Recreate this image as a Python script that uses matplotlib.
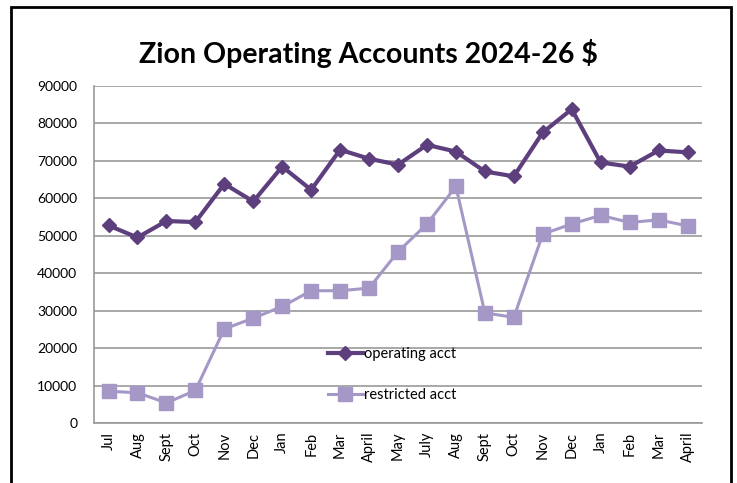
import matplotlib.pyplot as plt
from matplotlib.patches import Rectangle

months = ["Jul", "Aug", "Sept", "Oct", "Nov", "Dec", "Jan", "Feb", "Mar", "April", "May",
          "July", "Aug", "Sept", "Oct", "Nov", "Dec", "Jan", "Feb", "Mar", "April"]
operating = [52800, 49600, 54000, 53700, 63900, 59200, 68500, 62300, 73000, 70600, 69000,
             74300, 72500, 67200, 65900, 77600, 83800, 69600, 68500, 72800, 72300]
restricted = [8600, 8200, 5500, 8800, 25200, 28100, 31200, 35400, 35400, 36100, 45800,
              53200, 63200, 29500, 28300, 50500, 53200, 55500, 53600, 54300, 52700]

plt.rcParams['font.family'] = ['Lato', 'DejaVu Sans']

fig = plt.figure(figsize=(7.37, 4.83), dpi=100)
ax = fig.add_axes([0.1276, 0.1232, 0.8249, 0.6988])

x = range(len(months))
ax.plot(x, operating, color='#5e3f7d', lw=3, marker='D', ms=7, label='operating acct', zorder=3)
ax.plot(x, restricted, color='#a597c6', lw=2.2, marker='s', ms=10, label='restricted acct', zorder=3)

ax.set_xlim(-0.5, len(months) - 0.5)
ax.set_ylim(0, 90000)
ax.set_yticks(range(0, 90001, 10000))
ax.tick_params(axis='y', length=0, labelsize=10, pad=12)
ax.set_xticks(list(x))
ax.set_xticklabels(months, rotation=90, fontsize=10.5)
ax.tick_params(axis='x', length=0, pad=6)
ax.grid(axis='y', color='#999999', lw=1.2)
ax.set_axisbelow(True)
for s in ['top', 'right']:
    ax.spines[s].set_visible(False)
ax.spines['left'].set_color('#999999')
ax.spines['bottom'].set_color('#999999')
ax.spines['left'].set_linewidth(1.2)
ax.spines['bottom'].set_linewidth(1.2)

ax.legend(loc='upper left', bbox_to_anchor=(0.375, 0.245), frameon=False, fontsize=10.5,
          labelspacing=1.9, handlelength=2.4, handletextpad=0.1, borderaxespad=0)

fig.text(0.5, 0.89, "Zion Operating Accounts 2024-26 $", ha='center', va='center',
         fontsize=20.5, fontweight='bold')

fig.patches.append(Rectangle((11 / 737, -0.05), 720 / 737, 1 - 7 / 483 + 0.05,
                             transform=fig.transFigure, fill=False, ec='black', lw=2))

fig.savefig('out.png', dpi=100)
